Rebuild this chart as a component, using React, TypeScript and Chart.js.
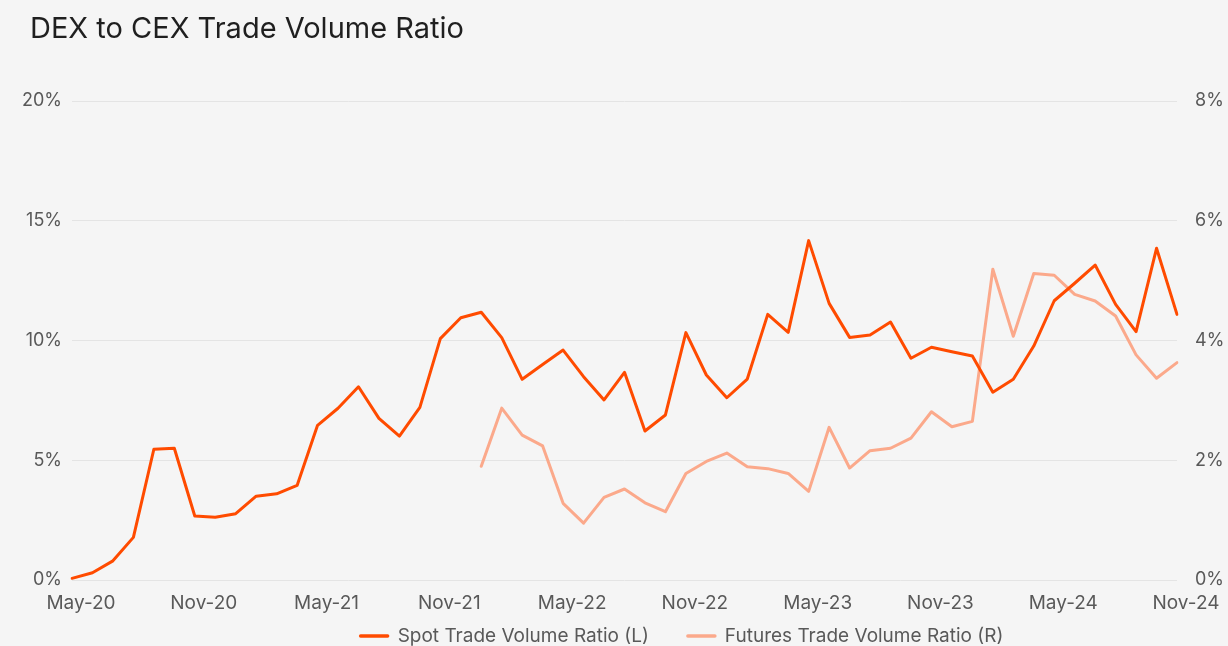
import React, { useEffect, useRef } from 'react';
import { Chart, registerables } from 'chart.js';

Chart.register(...registerables);

const months = [
  'May-20', 'Jun-20', 'Jul-20', 'Aug-20', 'Sep-20', 'Oct-20', 'Nov-20', 'Dec-20',
  'Jan-21', 'Feb-21', 'Mar-21', 'Apr-21', 'May-21', 'Jun-21', 'Jul-21', 'Aug-21', 'Sep-21', 'Oct-21', 'Nov-21', 'Dec-21',
  'Jan-22', 'Feb-22', 'Mar-22', 'Apr-22', 'May-22', 'Jun-22', 'Jul-22', 'Aug-22', 'Sep-22', 'Oct-22', 'Nov-22', 'Dec-22',
  'Jan-23', 'Feb-23', 'Mar-23', 'Apr-23', 'May-23', 'Jun-23', 'Jul-23', 'Aug-23', 'Sep-23', 'Oct-23', 'Nov-23', 'Dec-23',
  'Jan-24', 'Feb-24', 'Mar-24', 'Apr-24', 'May-24', 'Jun-24', 'Jul-24', 'Aug-24', 'Sep-24', 'Oct-24', 'Nov-24',
];

// Spot Trade Volume Ratio (left axis, %)
const spotRatio = [
  0.07, 0.3, 0.8, 1.78, 5.46, 5.5, 2.67, 2.62,
  2.77, 3.5, 3.6, 3.95, 6.46, 7.17, 8.07, 6.75, 6.01, 7.21, 10.08, 10.95,
  11.18, 10.12, 8.38, 9.0, 9.6, 8.49, 7.52, 8.67, 6.22, 6.89, 10.33, 8.56,
  7.61, 8.39, 11.09, 10.34, 14.17, 11.55, 10.13, 10.23, 10.77, 9.26, 9.72, 9.53,
  9.35, 7.84, 8.38, 9.77, 11.66, 12.39, 13.15, 11.51, 10.37, 13.85, 11.09,
];

// Futures Trade Volume Ratio (right axis, %)
const futuresRatio = [
  null, null, null, null, null, null, null, null,
  null, null, null, null, null, null, null, null, null, null, null, null,
  1.9, 2.87, 2.42, 2.24, 1.28, 0.95, 1.38, 1.52, 1.29, 1.14, 1.78, 1.98,
  2.12, 1.89, 1.86, 1.78, 1.48, 2.55, 1.87, 2.16, 2.2, 2.37, 2.81, 2.56,
  2.65, 5.19, 4.07, 5.12, 5.09, 4.77, 4.66, 4.41, 3.76, 3.37, 3.63,
];

const seriesLabels = ['Spot Trade Volume Ratio (L)', 'Futures Trade Volume Ratio (R)'];
const leftAxisRange = [0, 20, 5];
const rightAxisRange = [0, 8, 2];
const xLabelEvery = 6;

const FONT = 'Inter, "Noto Sans", sans-serif';
const TICK_COLOR = '#595959';

const customLegend = {
  id: 'customLegend',
  afterLayout(chart: any) {
    if (chart.titleBlock) chart.titleBlock.left = 30;
  },
  afterDraw(chart: any) {
    const ctx = chart.ctx;
    ctx.save();
    ctx.font = `19px ${FONT}`;
    ctx.textBaseline = 'middle';
    ctx.textAlign = 'left';
    const lineLen = 31;
    const gapText = 8;
    const gapItem = 37;
    const items = chart.data.datasets.map((ds: any) => ({
      label: ds.label,
      color: ds.borderColor,
      w: ctx.measureText(ds.label).width,
    }));
    const total =
      items.reduce((s: number, it: any) => s + lineLen + gapText + it.w, 0) + gapItem * (items.length - 1);
    let x = 681 - total / 2;
    const y = 636;
    for (const it of items) {
      ctx.strokeStyle = it.color;
      ctx.lineWidth = 3.5;
      ctx.lineCap = 'round';
      ctx.beginPath();
      ctx.moveTo(x + 2, y);
      ctx.lineTo(x + lineLen - 2, y);
      ctx.stroke();
      x += lineLen + gapText;
      ctx.fillStyle = TICK_COLOR;
      ctx.fillText(it.label, x, y);
      x += it.w + gapItem;
    }
    ctx.restore();
  },
};

export default function App() {
  const canvasRef = useRef<HTMLCanvasElement | null>(null);

  useEffect(() => {
    if (!canvasRef.current) return;
    const chart = new Chart(canvasRef.current, {
      type: 'line',
      data: {
        labels: months,
        datasets: [
          {
            label: seriesLabels[0],
            data: spotRatio,
            borderColor: '#FF4B00',
            backgroundColor: '#FF4B00',
            borderWidth: 3,
            pointRadius: 0,
            tension: 0,
            yAxisID: 'y',
            borderJoinStyle: 'round',
            borderCapStyle: 'round',
          },
          {
            label: seriesLabels[1],
            data: futuresRatio,
            borderColor: '#FBA98B',
            backgroundColor: '#FBA98B',
            borderWidth: 3,
            pointRadius: 0,
            tension: 0,
            yAxisID: 'y1',
            spanGaps: false,
            borderJoinStyle: 'round',
            borderCapStyle: 'round',
          },
        ],
      },
      options: {
        responsive: false,
        animation: false,
        layout: { padding: { left: 14, right: 0, top: 0, bottom: 31.2 } },
        plugins: {
          legend: { display: false },
          tooltip: { enabled: false },
          title: {
            display: true,
            text: 'DEX to CEX Trade Volume Ratio',
            align: 'start',
            color: '#1f1f1f',
            font: { family: FONT, size: 29, weight: 'normal' },
            padding: { top: 12, bottom: 54.2 },
          },
        },
        scales: {
          x: {
            grid: { display: false, drawTicks: false },
            border: { display: false },
            ticks: {
              autoSkip: false,
              maxRotation: 0,
              minRotation: 0,
              labelOffset: 9,
              padding: 12,
              color: TICK_COLOR,
              font: { family: FONT, size: 19 },
              callback: (_v: any, i: number) => (i % xLabelEvery === 0 ? months[i] : ''),
            },
            afterFit: (s: any) => {
              s.height = 34.8;
            },
          },
          y: {
            position: 'left',
            min: leftAxisRange[0],
            max: leftAxisRange[1],
            grid: { color: '#e4e4e4', lineWidth: 1, drawTicks: false },
            border: { display: false },
            ticks: {
              stepSize: leftAxisRange[2],
              padding: 10,
              color: TICK_COLOR,
              font: { family: FONT, size: 18 },
              callback: (v: any) => `${v}%`,
            },
            afterFit: (s: any) => {
              s.width = 58;
            },
          },
          y1: {
            position: 'right',
            min: rightAxisRange[0],
            max: rightAxisRange[1],
            grid: { display: false, drawTicks: false },
            border: { display: false },
            ticks: {
              stepSize: rightAxisRange[2],
              padding: 18,
              color: TICK_COLOR,
              font: { family: FONT, size: 18 },
              callback: (v: any) => `${v}%`,
            },
            afterFit: (s: any) => {
              s.width = 51;
            },
          },
        },
      },
      plugins: [customLegend],
    } as any);
    return () => chart.destroy();
  }, []);

  return (
    <div
      style={{
        position: 'fixed',
        left: 0,
        top: 0,
        width: 1228,
        height: 646,
        background: '#f5f5f5',
      }}
    >
      <canvas ref={canvasRef} width={1228} height={646} />
    </div>
  );
}
